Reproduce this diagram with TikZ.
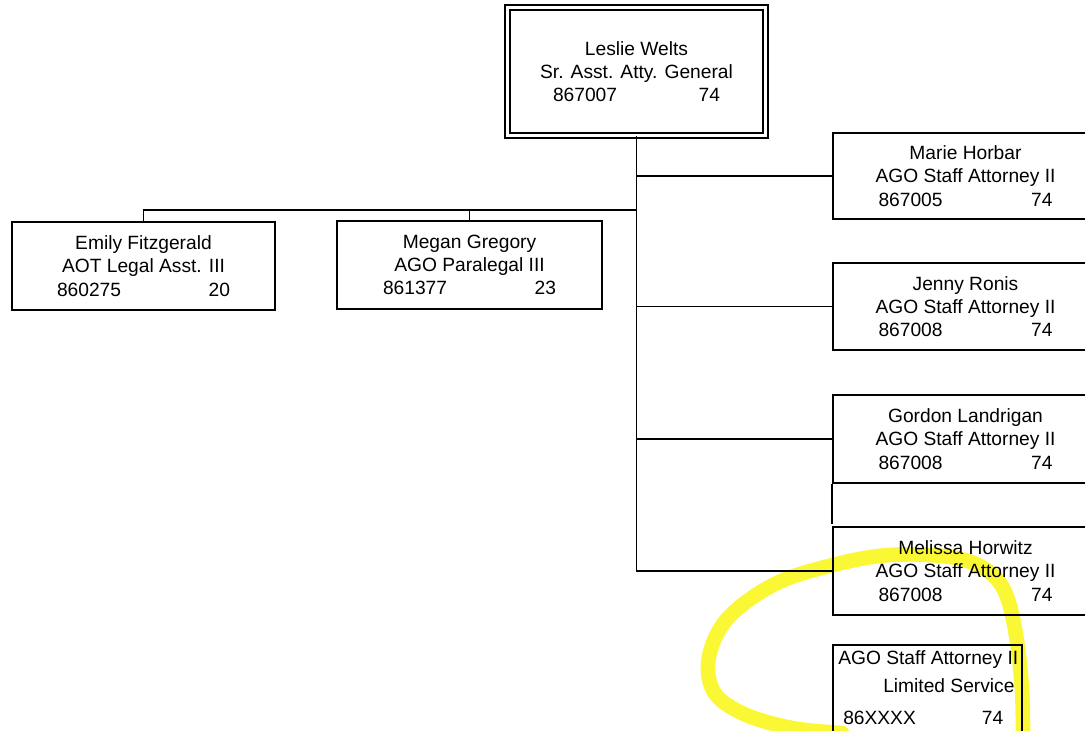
\documentclass[tikz,border=0pt]{standalone}
\usepackage{fontspec}
\setmainfont{Liberation Sans}
\definecolor{hl}{RGB}{250,246,30}
\begin{document}
\begin{tikzpicture}[x=0.75pt,y=-0.75pt,
  txt/.style={font=\fontsize{14.4pt}{17.5pt}\selectfont, inner sep=0pt},
  box/.style={draw, line width=1.2pt, align=center, txt},
  rbox/.style={box, minimum width=198.75pt},
  link/.style={line width=1.15pt},
  marker/.style={draw=hl, line width=11pt, line cap=round, opacity=0.9}]
\useasboundingbox (0,0) rectangle (1085,731);
\clip (0,0) rectangle (1085,731);
% highlighter stroke
\draw[marker] plot[smooth, tension=0.6] coordinates {(1023,745) (1022,690) (1016,635) (1005,592) (985,569) (950,557) (890,555) (833,565) (775,584) (728,618) (709,657) (714,692) (744,714) (792,728) (842,733)};
% boxes
\node[box, double, double distance=2.8pt, line width=0.9pt, minimum width=193.5pt, minimum height=96pt] (leslie) at (636.5,71.5)
  {Leslie Welts\\ Sr. Asst. Atty. General\\ \makebox[125.25pt]{867007\hfill 74}};
\node[box, minimum width=197.25pt, minimum height=66pt] (emily) at (143.5,266)
  {Emily Fitzgerald\\ AOT Legal Asst. III\\ \makebox[129.75pt]{860275\hfill 20}};
\node[box, minimum width=198.75pt, minimum height=66pt] (megan) at (469.5,265)
  {Megan Gregory\\ AGO Paralegal III\\ \makebox[129.75pt]{861377\hfill 23}};
\node[rbox, minimum height=64.5pt] (marie) at (965.5,176)
  {Marie Horbar\\ AGO Staff Attorney II\\ \makebox[130.5pt]{867005\hfill 74}};
\node[rbox, minimum height=65.25pt] (jenny) at (965.5,306.5)
  {Jenny Ronis\\ AGO Staff Attorney II\\ \makebox[130.5pt]{867008\hfill 74}};
\node[rbox, minimum height=66pt] (gordon) at (965.5,439)
  {Gordon Landrigan\\ AGO Staff Attorney II\\ \makebox[130.5pt]{867008\hfill 74}};
\node[rbox, minimum height=66pt] (melissa) at (965.5,571)
  {Melissa Horwitz\\ AGO Staff Attorney II\\ \makebox[130.5pt]{867008\hfill 74}};
\node[draw, line width=1.2pt, minimum width=141.75pt, minimum height=86.25pt] (limited) at (927.5,702.5) {};
\node[txt, anchor=base west] (lim1) at (838,664) {AGO Staff Attorney II};
\node[txt, anchor=base west] (lim2) at (883,692) {Limited Service};
\node[txt, anchor=base west] (lim3) at (843,724) {\makebox[120pt][l]{86XXXX\hfill 74}};
% extra edge below Gordon
\draw[link] (gordon.south west) -- ++(0,40);
% connectors
\coordinate (split) at (leslie.south |- 0,210);
\draw[link] (leslie.south) |- (melissa.west);
\draw[link] (leslie.south) |- (marie.west);
\draw[link] (leslie.south) |- (jenny.west);
\draw[link] (leslie.south) |- (gordon.west);
\draw[link] (split) -| (emily.north);
\draw[link] (split) -| (megan.north);
\end{tikzpicture}
\end{document}
